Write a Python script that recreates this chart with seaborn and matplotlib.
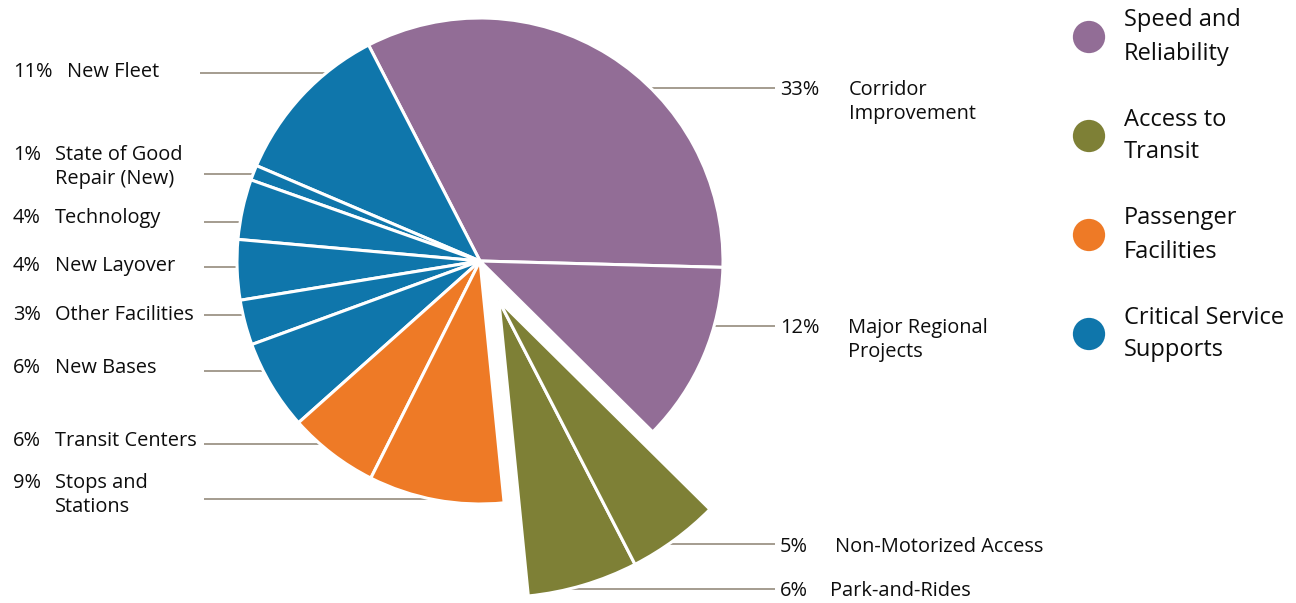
import numpy as np
import matplotlib
matplotlib.use("Agg")
import matplotlib.pyplot as plt
import seaborn as sns

# data, in drawing order (counter-clockwise from 3 o'clock)
names = ["Corridor\nImprovement", "New Fleet", "State of Good\nRepair (New)", "Technology",
         "New Layover", "Other Facilities", "New Bases", "Transit Centers",
         "Stops and\nStations", "Park-and-Rides", "Non-Motorized Access",
         "Major Regional\nProjects"]
pcts = [33, 11, 1, 4, 4, 3, 6, 6, 9, 6, 5, 12]
groups = ["Speed and\nReliability", "Critical Service\nSupports", "Critical Service\nSupports",
          "Critical Service\nSupports", "Critical Service\nSupports", "Critical Service\nSupports",
          "Critical Service\nSupports", "Passenger\nFacilities", "Passenger\nFacilities",
          "Access to\nTransit", "Access to\nTransit", "Speed and\nReliability"]
legend_groups = ["Speed and\nReliability", "Access to\nTransit", "Passenger\nFacilities",
                 "Critical Service\nSupports"]
group_colors = ["#926D96", "#7E8036", "#EE7A26", "#0F76AB"]
exploded_group = "Access to\nTransit"

sns.set_theme(style="white")
plt.rcParams['font.family'] = ['Open Sans', 'DejaVu Sans']

W, H = 1296, 603
CX, CY, R = 480, 261, 243      # pie centre / radius in pixels
START = -1.5


def px(x):
    return (x - CX) / R


def py(y):
    return (CY - y) / R


fig = plt.figure(figsize=(W / 100, H / 100), dpi=100)
ax = fig.add_axes([0, 0, 1, 1])

palette = dict(zip(legend_groups, group_colors))
colors = [palette[g] for g in groups]
is_expl = [g == exploded_group for g in groups]

wprops = dict(edgecolor="white", linewidth=2.2, antialiased=True)

# main pie (exploded wedges hidden)
wedges, _ = ax.pie(pcts, colors=colors, startangle=START, counterclock=True,
                   radius=1.0, wedgeprops=wprops, frame=True)
for w, e in zip(wedges, is_expl):
    w.set_visible(not e)

# exploded group drawn bigger and shifted along its mid angle
cum = START + np.cumsum([0] + pcts) / sum(pcts) * 360
idx = [i for i, e in enumerate(is_expl) if e]
mid = np.deg2rad((cum[idx[0]] + cum[idx[-1] + 1]) / 2)
shift = 0.18
ecx, ecy = shift * np.cos(mid), shift * np.sin(mid)
erad = 1.222
wedges2, _ = ax.pie(pcts, colors=colors, startangle=START, counterclock=True,
                    radius=erad, center=(ecx, ecy), wedgeprops=wprops, frame=True)
for w, e in zip(wedges2, is_expl):
    w.set_visible(e)

# labels: layout (pixels)
left_labels = [1, 2, 3, 4, 5, 6, 7, 8]
right_labels = [0, 11, 10, 9]
lab_base = {1: 77, 2: 160, 3: 223, 4: 271, 5: 320, 6: 373, 7: 446, 8: 488,
            0: 95, 11: 333, 10: 552, 9: 596}
lab_line = {1: 73, 2: 174, 3: 222, 4: 267, 5: 315, 6: 371, 7: 444, 8: 499,
            0: 88, 11: 326, 10: 544, 9: 589}
name_x = {1: 67, 2: 55, 3: 55, 4: 55, 5: 55, 6: 55, 7: 55, 8: 55,
          0: 849, 11: 848, 10: 835, 9: 830}
line_col = "#8C8171"
txt_col = "#0d0d0d"
fs = 14.4

for i in left_labels + right_labels:
    left = i in left_labels
    xp = 13 if left else 780
    ax.text(px(xp), py(lab_base[i]), f"{pcts[i]}%", fontsize=fs, color=txt_col,
            va="baseline", ha="left")
    for k, line in enumerate(names[i].split("\n")):
        ax.text(px(name_x[i]), py(lab_base[i] + k * 24), line, fontsize=fs,
                color=txt_col, va="baseline", ha="left")
    # leader line to wedge edge
    yl = py(lab_line[i])
    if is_expl[i]:
        c0, c1, rr = ecx, ecy, erad
    else:
        c0, c1, rr = 0.0, 0.0, 1.0
    dx = np.sqrt(max(rr ** 2 - (yl - c1) ** 2, 0))
    if left:
        xs = px(200 if i == 1 else 204)
        xe = c0 - dx
    else:
        xs = c0 + dx
        xe = px(775)
    ax.plot([xs, xe], [yl, yl], color=line_col, lw=1.1, zorder=0.5,
            solid_capstyle="butt")

# legend dots
leg_y = [py(37 + 99 * k) for k in range(len(legend_groups))]
sns.scatterplot(x=[px(1089)] * len(legend_groups), y=leg_y, hue=legend_groups,
                palette=palette, s=540, edgecolor="none", legend=False, ax=ax)
for g, yy in zip(legend_groups, leg_y):
    ax.text(px(1124), yy, g, fontsize=17, color=txt_col, va="center",
            ha="left", linespacing=1.5)

ax.set_xlim(px(0), px(W))
ax.set_ylim(py(H), py(0))
ax.set_aspect("auto")
ax.axis("off")

fig.savefig("out.png", dpi=100, facecolor="white")
